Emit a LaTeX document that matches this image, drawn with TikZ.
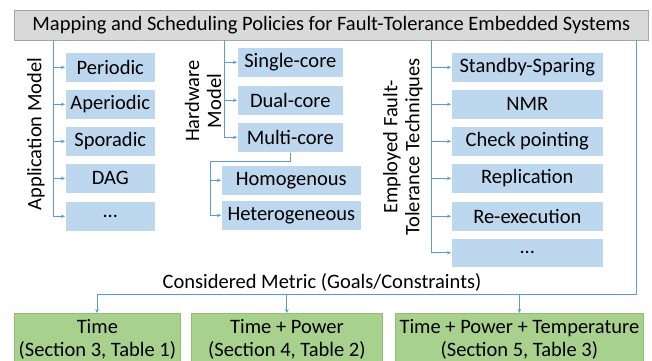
\documentclass[tikz,border=0pt]{standalone}
\usepackage{fontspec}
\setmainfont{Carlito}
\usetikzlibrary{arrows.meta}
\definecolor{bxblue}{HTML}{BDD7EE}
\definecolor{lnblue}{HTML}{5B9BD5}
\definecolor{tgrey}{HTML}{D9D9D9}
\definecolor{tgreyd}{HTML}{A6A6A6}
\definecolor{gfill}{HTML}{A9D18E}
\definecolor{gdraw}{HTML}{8FBF73}
\tikzset{
  bbox/.style={fill=bxblue, draw=white, line width=0.6pt, inner sep=0pt, anchor=north west, font=\fontsize{20.5}{22}\selectfont},
  gbox/.style={fill=gfill, draw=gdraw, line width=0.8pt, inner sep=0pt, anchor=north west, align=center, font=\fontsize{20.5}{23}\selectfont},
  conn/.style={draw=lnblue, line width=0.9pt},
  arr/.style={conn, -{Stealth[length=4pt,width=3.5pt]}},
  rlab/.style={rotate=90, align=center, font=\fontsize{20.5}{22}\selectfont},
}
\begin{document}
\begin{tikzpicture}[x=1pt,y=-1pt]
\useasboundingbox (0,0) rectangle (652,360);
\clip (0,0) rectangle (652,360);
% title
\node[fill=tgrey, draw=tgreyd, line width=0.8pt, minimum width=634pt, minimum height=30pt, inner sep=0pt, anchor=north west, font=\fontsize{20.5}{22}\selectfont] (t) at (14,10) {Mapping and Scheduling Policies for Fault-Tolerance Embedded Systems};
% application model
\node[rlab] (al) at (36,134) {Application Model};
\node[bbox, minimum width=90pt, minimum height=30pt] (a1) at (65,52) {Periodic};
\node[bbox, minimum width=90pt, minimum height=30pt] (a2) at (65,89) {Aperiodic};
\node[bbox, minimum width=90pt, minimum height=30pt] (a3) at (65,126) {Sporadic};
\node[bbox, minimum width=90pt, minimum height=30pt] (a4) at (65,163) {DAG};
\node[bbox, minimum width=90pt, minimum height=30pt] (a5) at (65,201) {...};
\coordinate (a0) at (53,40);
\draw[conn] (a0) -- (53,216);
\foreach \i in {1,...,5} \draw[arr] (a0) |- (a\i.west);
% hardware model
\node[rlab] (hl) at (203,101) {Hardware\\Model};
\node[bbox, minimum width=106pt, minimum height=30pt] (h1) at (237,47) {Single-core};
\node[bbox, minimum width=106pt, minimum height=30pt] (h2) at (237,85) {Dual-core};
\node[bbox, minimum width=106pt, minimum height=30pt] (h3) at (237,122) {Multi-core};
\node[bbox, minimum width=140pt, minimum height=30pt] (h4) at (221,165) {Homogenous};
\node[bbox, minimum width=140pt, minimum height=30pt] (h5) at (221,200) {Heterogeneous};
\coordinate (h0) at (224,40);
\foreach \i in {1,2,3} \draw[arr] (h0) |- (h\i.west);
\coordinate (hm) at (210,161);
\draw[conn] (h3.south) |- (hm) -- (210,215);
\draw[arr] (hm) |- (h4.west);
\draw[arr] (hm) |- (h5.west);
% fault tolerance
\node[rlab] (fl) at (403,147) {Employed Fault-\\Tolerance Techniques};
\node[bbox, minimum width=152pt, minimum height=30pt] (f1) at (451,52) {Standby-Sparing};
\node[bbox, minimum width=152pt, minimum height=30pt] (f2) at (451,89) {NMR};
\node[bbox, minimum width=152pt, minimum height=30pt] (f3) at (451,126) {Check pointing};
\node[bbox, minimum width=152pt, minimum height=30pt] (f4) at (451,163) {Replication};
\node[bbox, minimum width=152pt, minimum height=30pt] (f5) at (451,201) {Re-execution};
\node[bbox, minimum width=152pt, minimum height=29pt] (f6) at (451,238) {...};
\coordinate (f0) at (431,40);
\draw[conn] (f0) -- (431,253);
\foreach \i in {1,...,6} \draw[arr] (f0) |- (f\i.west);
% metric
\node[font=\fontsize{20.5}{22}\selectfont] (ml) at (322,282) {Considered Metric (Goals/Constraints)};
\coordinate (r0) at (636,40);
\coordinate (r1) at (636,294);
\node[gbox, minimum width=166pt, minimum height=51pt] (g1) at (14,313) {Time\\(Section 3, Table 1)};
\node[gbox, minimum width=191pt, minimum height=51pt] (g2) at (191,313) {Time + Power\\(Section 4, Table 2)};
\node[gbox, minimum width=248pt, minimum height=51pt] (g3) at (395,313) {Time + Power + Temperature\\(Section 5, Table 3)};
\coordinate (m1) at (97,294);
\draw[conn] (r0) -- (r1) -- (m1);
\draw[arr] (m1) -- (g1.north -| m1);
\draw[arr] (g2.north |- r1) -- (g2.north);
\draw[arr] (g3.north |- r1) -- (g3.north);
\end{tikzpicture}
\end{document}
